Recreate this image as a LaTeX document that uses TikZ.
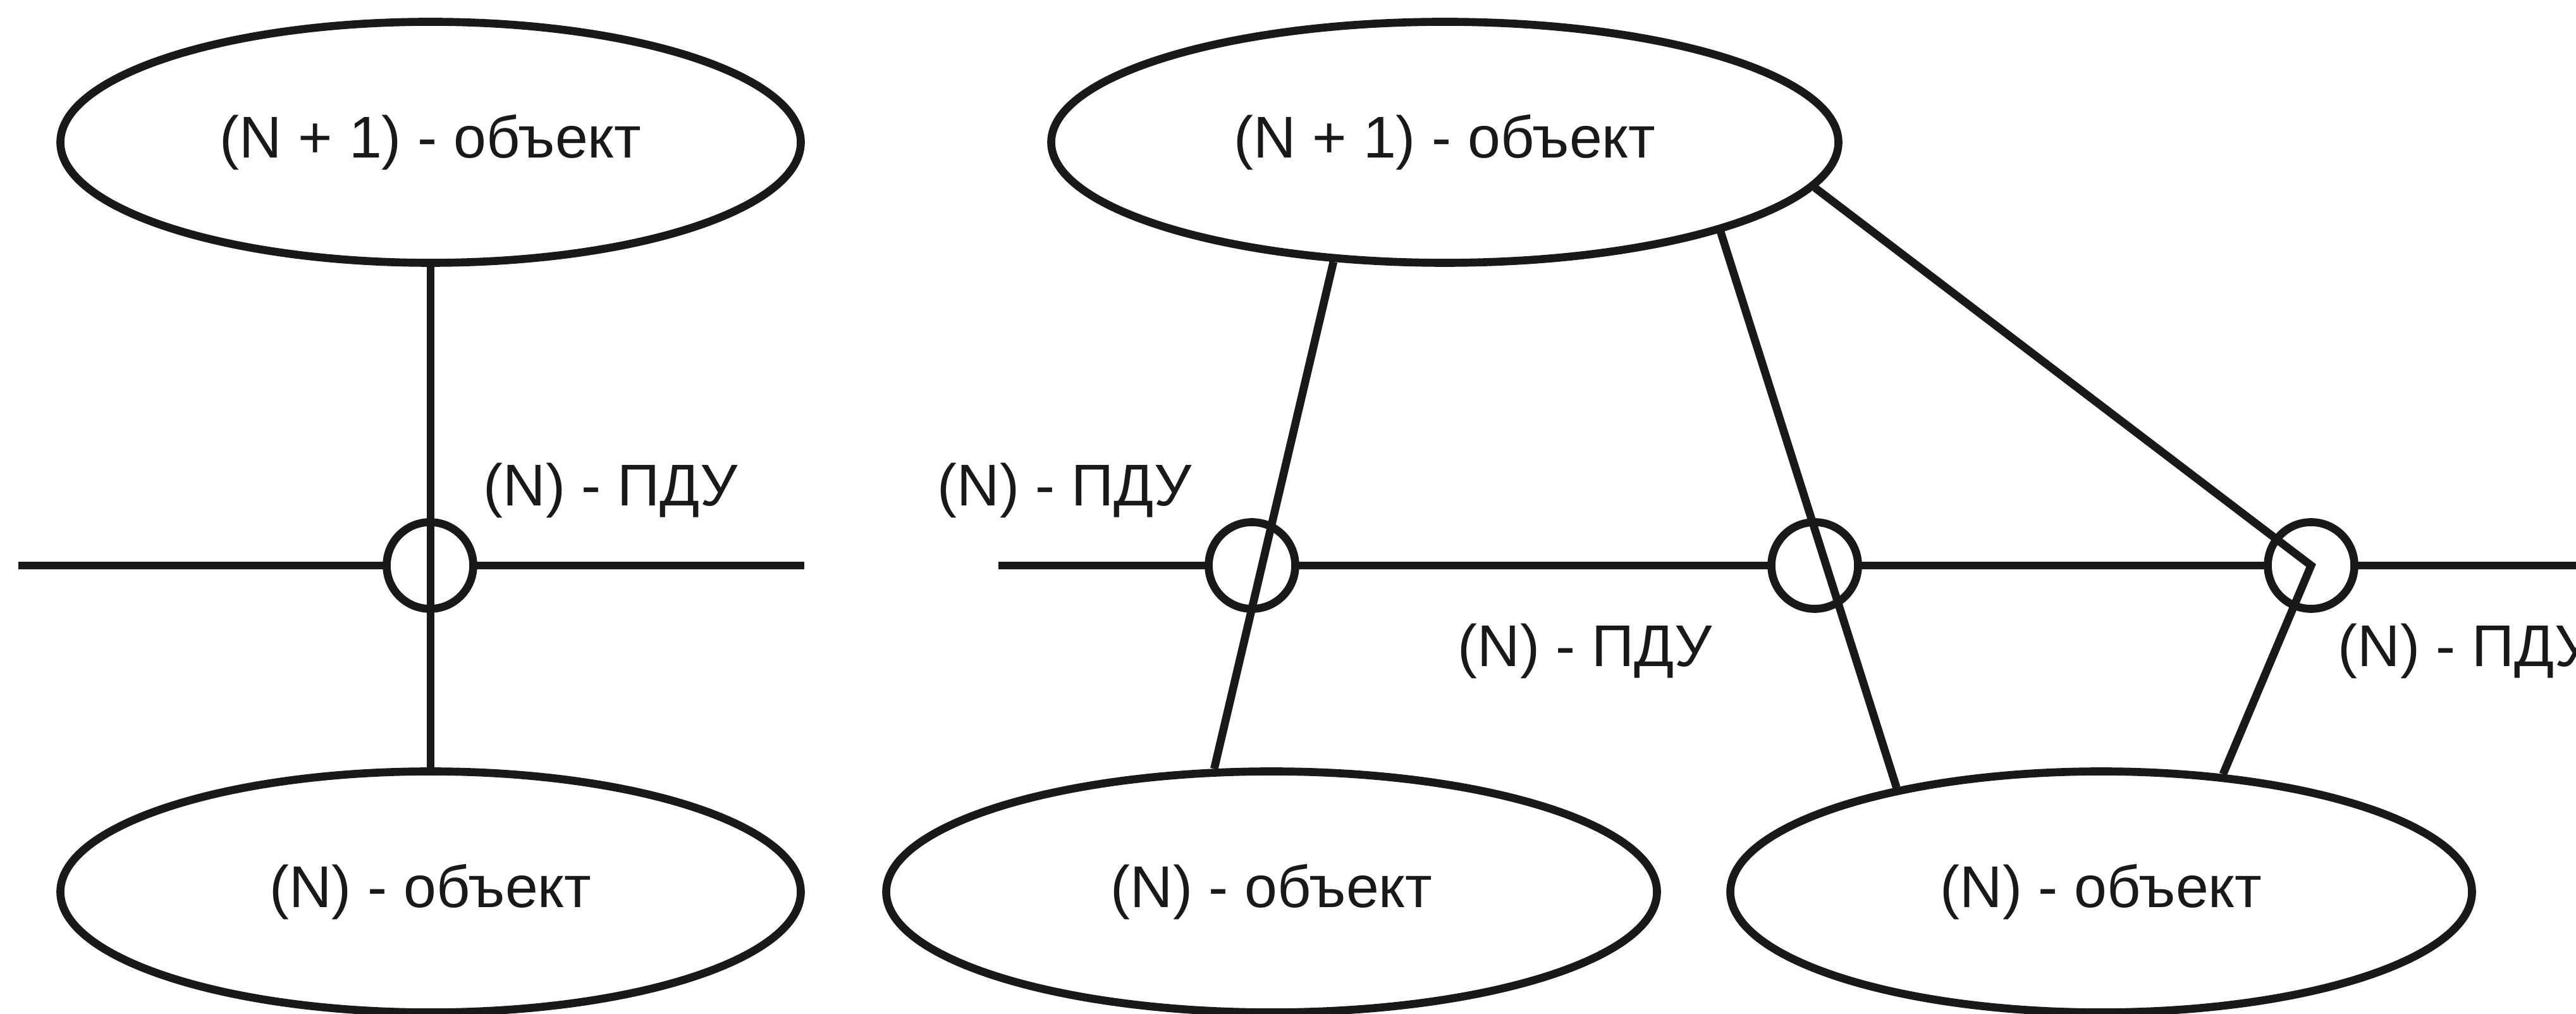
\documentclass[tikz,border=0pt]{standalone}
\usepackage{fontspec}
\setmainfont{Liberation Sans}
\usetikzlibrary{shapes.geometric}
\begin{document}
\begin{tikzpicture}[line width=3.6pt, color=black!90,
	every node/.style={inner sep=0pt, font=\fontsize{26.5pt}{30pt}\selectfont},
	obj/.style={draw, ellipse, minimum width=#1, minimum height=3.81cm},
	pdu/.style={draw, circle, fill=white, minimum size=1.37cm}]
	\useasboundingbox (0,0) rectangle (40.74,16.02);
	\draw (0.29,7.08) -- (12.72,7.08);
	\draw (15.79,7.08) -- (41,7.08);
	\node [obj=11.71cm] (nl1) at (6.81,13.77) {(N + 1) - объект};
	\node [obj=11.71cm] (nl2) at (6.81,1.92) {(N) - объект};
	\node [pdu] (c0) at (6.8,7.08) {};
	\node (l0) at (9.66,8.27) {(N) - ПДУ};
	\node [obj=12.45cm] (nt2) at (22.85,13.77) {(N + 1) - объект};
	\node [obj=12.19cm] (nb2) at (20.11,1.92) {(N) - объект};
	\node [obj=11.73cm] (nb3) at (33.23,1.92) {(N) - объект};
	\node [pdu] (c1) at (19.8,7.08) {};
	\node [pdu] (c2) at (28.7,7.08) {};
	\node [pdu] (c3) at (36.55,7.08) {};
	\node (l1) at (16.84,8.27) {(N) - ПДУ};
	\node (l2) at (25.07,5.73) {(N) - ПДУ};
	\node (l3) at (38.99,5.73) {(N) - ПДУ};
	\draw (nl1) -- (nl2);
	\draw (nt2.227) -- (nb2.115);
	\draw (nt2.342) -- (nb3.153);
	\draw (nt2.353) -- (c3.center) -- (nb3.44);
\end{tikzpicture}
\end{document}
